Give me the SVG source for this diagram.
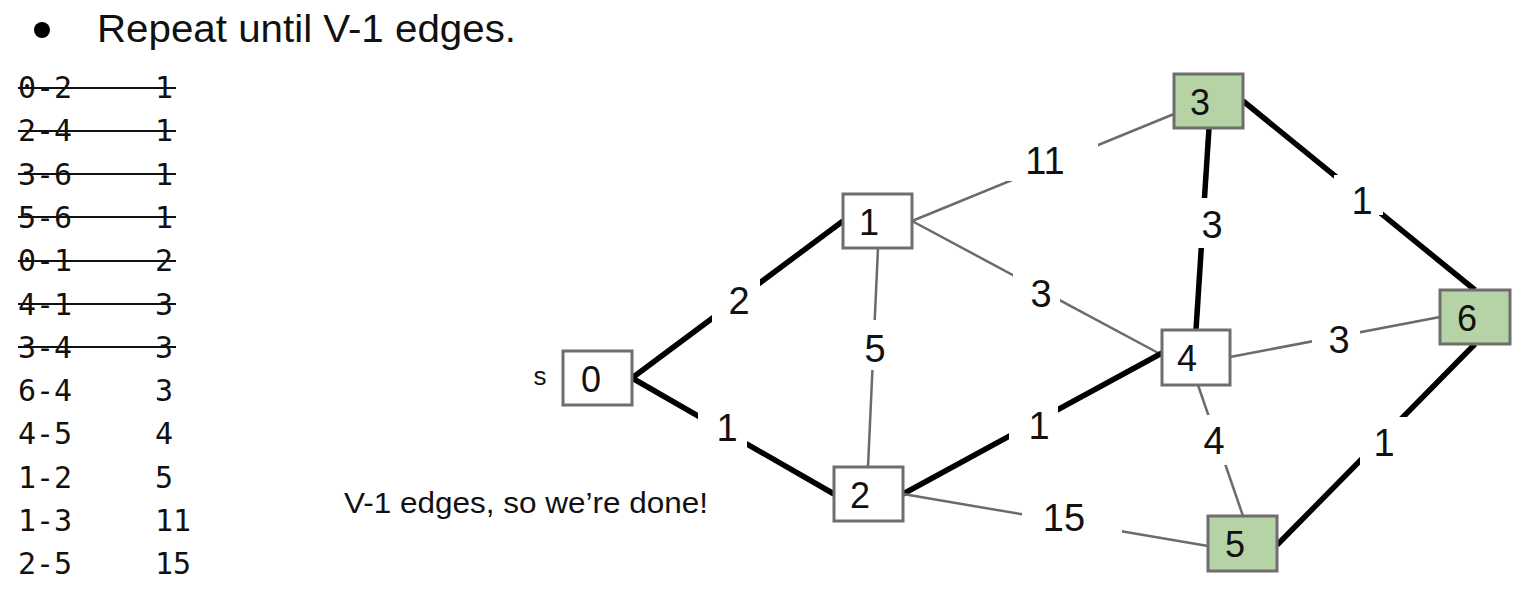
<svg xmlns="http://www.w3.org/2000/svg" width="1521" height="596" viewBox="0 0 1521 596">
<style>
.node rect{stroke:#6e6e6e;stroke-width:3;fill:#fff}
.node.g rect{fill:#b6d3a6}
.node text{font-family:"Liberation Sans",Arial,sans-serif;font-size:36px;fill:#111;text-anchor:middle}
.thin{stroke:#6b6b6b;stroke-width:2.5;fill:none}
.thick{stroke:#000;stroke-width:5.5;fill:none}
.gap{fill:#fff}
.lbl{font-family:"Liberation Sans",Arial,sans-serif;font-size:38px;fill:#111;text-anchor:middle}
.mono{font-family:"DejaVu Sans Mono","Liberation Mono",monospace;font-size:30px;fill:#111}
.strike{stroke:#111;stroke-width:2}
</style>
<rect width="1521" height="596" fill="#fff"/>
<g id="title">
<circle cx="42" cy="30" r="8" fill="#000"/>
<text x="97" y="42" font-family="Liberation Sans,Arial,sans-serif" font-size="38" fill="#111" textLength="419" lengthAdjust="spacingAndGlyphs">Repeat until V-1 edges.</text>
</g>
<g id="edgelist" class="mono">
<text x="18" y="98">0-2</text><text x="155" y="98">1</text>
<text x="18" y="141">2-4</text><text x="155" y="141">1</text>
<text x="18" y="185">3-6</text><text x="155" y="185">1</text>
<text x="18" y="228">5-6</text><text x="155" y="228">1</text>
<text x="18" y="271">0-1</text><text x="155" y="271">2</text>
<text x="18" y="315">4-1</text><text x="155" y="315">3</text>
<text x="18" y="358">3-4</text><text x="155" y="358">3</text>
<text x="18" y="401">6-4</text><text x="155" y="401">3</text>
<text x="18" y="444">4-5</text><text x="155" y="444">4</text>
<text x="18" y="488">1-2</text><text x="155" y="488">5</text>
<text x="18" y="531">1-3</text><text x="155" y="531">11</text>
<text x="18" y="574">2-5</text><text x="155" y="574">15</text>
<g class="strike">
<line x1="18" y1="88" x2="176" y2="88"/>
<line x1="18" y1="131" x2="176" y2="131"/>
<line x1="18" y1="174" x2="176" y2="174"/>
<line x1="18" y1="217" x2="176" y2="217"/>
<line x1="18" y1="261" x2="176" y2="261"/>
<line x1="18" y1="304" x2="176" y2="304"/>
<line x1="18" y1="347" x2="176" y2="347"/>
</g>
</g>
<g id="connectors">
<line class="thick" x1="632" y1="378" x2="843" y2="221"/>
<line class="thick" x1="632" y1="378" x2="834" y2="494"/>
<line class="thin" x1="878" y1="248" x2="868" y2="467"/>
<line class="thin" x1="912" y1="221" x2="1174" y2="114"/>
<line class="thin" x1="912" y1="221" x2="1162" y2="355"/>
<line class="thick" x1="903" y1="494" x2="1162" y2="353"/>
<line class="thin" x1="903" y1="494" x2="1208" y2="546"/>
<line class="thick" x1="1209" y1="128" x2="1196" y2="330"/>
<line class="thick" x1="1243" y1="101" x2="1475" y2="290"/>
<line class="thin" x1="1230" y1="357" x2="1440" y2="317"/>
<line class="thin" x1="1198" y1="385" x2="1243" y2="516"/>
<line class="thick" x1="1277" y1="545" x2="1475" y2="344"/>
<rect class="gap" x="712" y="278" width="48" height="50"/>
<rect class="gap" x="698" y="405" width="49" height="50"/>
<rect class="gap" x="851" y="320" width="48" height="50"/>
<rect class="gap" x="1007" y="135" width="91" height="46"/>
<rect class="gap" x="1013" y="265" width="47" height="50"/>
<rect class="gap" x="1009" y="400" width="49" height="50"/>
<rect class="gap" x="1022" y="495" width="100" height="50"/>
<rect class="gap" x="1188" y="198" width="48" height="50"/>
<rect class="gap" x="1334" y="175" width="49" height="40"/>
<rect class="gap" x="1312" y="313" width="48" height="50"/>
<rect class="gap" x="1190" y="415" width="48" height="50"/>
<rect class="gap" x="1360" y="417" width="48" height="50"/>
<text class="lbl" x="739" y="314">2</text>
<text class="lbl" x="727" y="441">1</text>
<text class="lbl" x="875" y="362">5</text>
<text class="lbl" x="1045" y="174">11</text>
<text class="lbl" x="1041" y="307">3</text>
<text class="lbl" x="1039" y="439">1</text>
<text class="lbl" x="1064" y="531">15</text>
<text class="lbl" x="1212" y="238">3</text>
<text class="lbl" x="1362" y="214">1</text>
<text class="lbl" x="1339" y="353">3</text>
<text class="lbl" x="1214" y="454">4</text>
<text class="lbl" x="1384" y="456">1</text>
</g>
<g id="node0" class="node"><rect x="563" y="351" width="69" height="54"/><text x="591" y="392">0</text></g>
<g id="node1" class="node"><rect x="843" y="194" width="69" height="54"/><text x="869" y="235">1</text></g>
<g id="node2" class="node"><rect x="834" y="467" width="69" height="54"/><text x="860" y="508">2</text></g>
<g id="node3" class="node g"><rect x="1174" y="74" width="69" height="54"/><text x="1200" y="115">3</text></g>
<g id="node4" class="node"><rect x="1162" y="330" width="68" height="55"/><text x="1187" y="371">4</text></g>
<g id="node5" class="node g"><rect x="1208" y="516" width="69" height="55"/><text x="1235" y="557">5</text></g>
<g id="node6" class="node g"><rect x="1440" y="290" width="70" height="54"/><text x="1467" y="331">6</text></g>
<text x="540" y="385" font-family="Liberation Sans,Arial,sans-serif" font-size="26" fill="#111" text-anchor="middle">s</text>
<text x="344" y="513" font-family="Liberation Sans,Arial,sans-serif" font-size="30" fill="#111" textLength="364" lengthAdjust="spacingAndGlyphs">V-1 edges, so we’re done!</text>
</svg>
